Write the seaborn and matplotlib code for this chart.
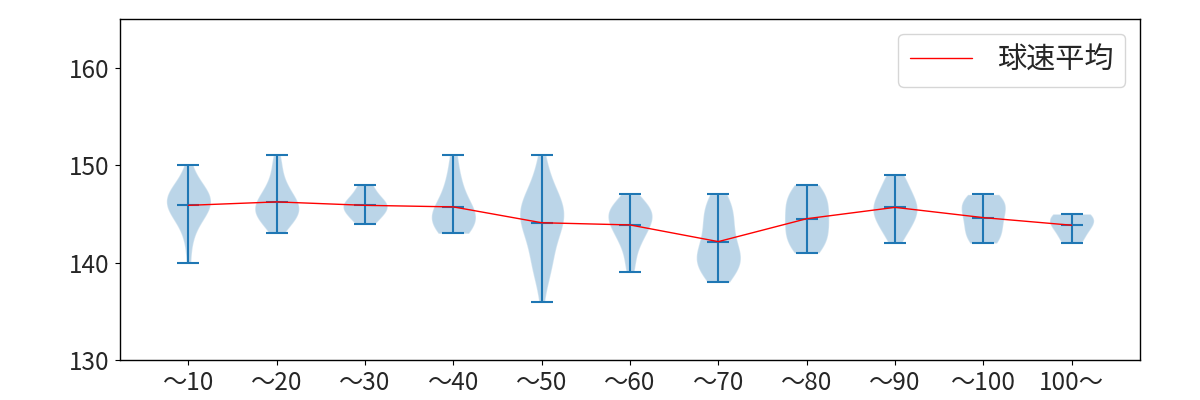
import numpy as np
import matplotlib
matplotlib.use("Agg")
import matplotlib.pyplot as plt
import seaborn as sns

sns.set_style("ticks")
plt.rcParams['font.family'] = ['Noto Sans CJK JP', 'DejaVu Sans']
plt.rcParams['axes.unicode_minus'] = False

categories = ["～10", "～20", "～30", "～40", "～50", "～60", "～70", "～80", "～90", "～100", "100～"]

# speed (km/h) -> pitch count, per category
speeds_10 = [140, 142, 143, 144, 145, 146, 147, 148, 149, 150]
counts_10 = [1, 1, 1, 2, 4, 5, 5, 3, 1, 1]
speeds_20 = [143, 144, 145, 146, 147, 148, 149, 150, 151]
counts_20 = [1, 3, 5, 5, 3, 2, 1, 1, 1]
speeds_30 = [144, 145, 146, 147, 148]
counts_30 = [1, 2, 3, 1, 1]
speeds_40 = [143, 144, 145, 146, 147, 148, 149, 151]
counts_40 = [2, 3, 3, 2, 1, 1, 1, 1]
speeds_50 = [136, 138, 139, 140, 141, 142, 143, 144, 145, 146, 147, 148, 149, 150, 151]
counts_50 = [1, 1, 2, 2, 2, 2, 3, 4, 5, 4, 3, 2, 1, 1, 1]
speeds_60 = [139, 140, 141, 142, 143, 144, 145, 146, 147]
counts_60 = [1, 1, 1, 2, 3, 4, 5, 4, 1]
speeds_70 = [138, 139, 140, 141, 142, 143, 144, 145, 146, 147]
counts_70 = [2, 4, 5, 5, 3, 3, 3, 3, 3, 2]
speeds_80 = [141, 142, 143, 144, 145, 146, 147, 148]
counts_80 = [2, 3, 3, 3, 3, 3, 3, 2]
speeds_90 = [142, 143, 144, 145, 146, 147, 148, 149]
counts_90 = [1, 2, 3, 4, 4, 3, 2, 2]
speeds_100 = [142, 143, 144, 145, 146, 147]
counts_100 = [2, 2, 2, 2, 3, 2]
speeds_100p = [142, 143, 144, 145]
counts_100p = [1, 1, 2, 2]

groups = [
    (speeds_10, counts_10), (speeds_20, counts_20), (speeds_30, counts_30),
    (speeds_40, counts_40), (speeds_50, counts_50), (speeds_60, counts_60),
    (speeds_70, counts_70), (speeds_80, counts_80), (speeds_90, counts_90),
    (speeds_100, counts_100), (speeds_100p, counts_100p),
]
data = [np.repeat(s, c).astype(float) for s, c in groups]
means = [d.mean() for d in data]
positions = np.arange(1, len(categories) + 1)

fig, ax = plt.subplots(figsize=(12, 4), dpi=100)
fig.subplots_adjust(left=0.1, right=0.95, top=0.9525, bottom=0.1)

ax.violinplot(data, positions=positions, showmeans=True, showextrema=True)
sns.lineplot(x=positions, y=means, color="red", linewidth=1, label="球速平均", ax=ax)

ax.set_ylim(130, 165)
ax.set_yticks([130, 140, 150, 160])
ax.set_xticks(positions)
ax.set_xticklabels(categories)
ax.tick_params(labelsize=17.5, direction="out", length=3.5, color="black", pad=4)
for s in ax.spines.values():
    s.set_visible(True)
    s.set_color("black")
    s.set_linewidth(1)
ax.legend(loc="upper right", fontsize=21, borderpad=0.4, handlelength=2.15,
          handletextpad=0.85)

fig.savefig("out.png", dpi=100)
